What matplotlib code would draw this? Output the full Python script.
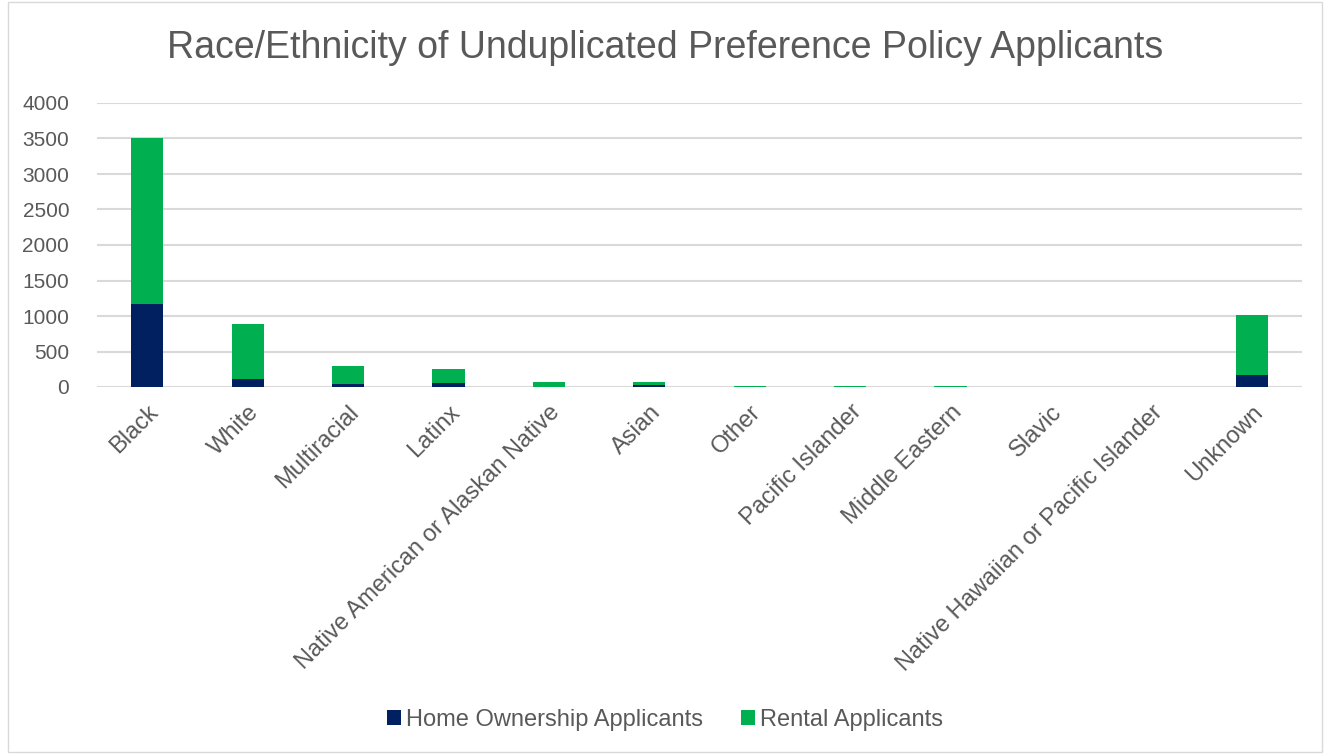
import matplotlib.pyplot as plt
from matplotlib.patches import Rectangle

categories = ['Black', 'White', 'Multiracial', 'Latinx', 'Native American or Alaskan Native',
              'Asian', 'Other', 'Pacific Islander', 'Middle Eastern', 'Slavic',
              'Native Hawaiian or Pacific Islander', 'Unknown']
home_ownership = [1175, 113, 45, 60, 5, 30, 5, 5, 5, 2, 2, 165]
rental = [2325, 770, 245, 193, 70, 45, 15, 15, 15, 4, 4, 855]

plt.rcParams['font.family'] = ['Liberation Sans', 'DejaVu Sans']
grey = '#595959'

fig = plt.figure(figsize=(13.3, 7.54), dpi=100)
ax = fig.add_axes([97 / 1330, 1 - 387 / 754, 1205 / 1330, 284 / 754])

x = range(len(categories))
ax.bar(x, home_ownership, width=0.32, color='#002060', label='Home Ownership Applicants', zorder=3)
ax.bar(x, rental, width=0.32, bottom=home_ownership, color='#00B050', label='Rental Applicants', zorder=3)

ax.set_xlim(-0.5, len(categories) - 0.5)
ax.set_ylim(0, 4000)
ax.set_yticks(range(0, 4001, 500))
ax.grid(axis='y', color='#d9d9d9', linewidth=1.5, zorder=0)
for s in ax.spines.values():
    s.set_visible(False)
ax.tick_params(length=0, labelsize=15, labelcolor=grey)
ax.tick_params(axis='y', pad=20)
ax.set_xticks(list(x))
ax.set_xticklabels(categories, rotation=45, ha='right', rotation_mode='anchor', fontsize=17)
ax.tick_params(axis='x', pad=10)

fig.suptitle('Race/Ethnicity of Unduplicated Preference Policy Applicants',
             x=0.5, y=1 - 48 / 754, va='center', fontsize=27, color=grey)

leg = fig.legend(loc='center', bbox_to_anchor=(0.5, 1 - 720 / 754), ncol=2, frameon=False,
                 fontsize=17, handlelength=0.6, handleheight=0.6, handletextpad=0.2,
                 columnspacing=1.6)
for t in leg.get_texts():
    t.set_color(grey)

fig.patches.append(Rectangle((8 / 1330, 2 / 754), 1314 / 1330, 750 / 754,
                             transform=fig.transFigure, fill=False,
                             edgecolor='#d9d9d9', linewidth=1))

fig.savefig('out.png', dpi=100)
